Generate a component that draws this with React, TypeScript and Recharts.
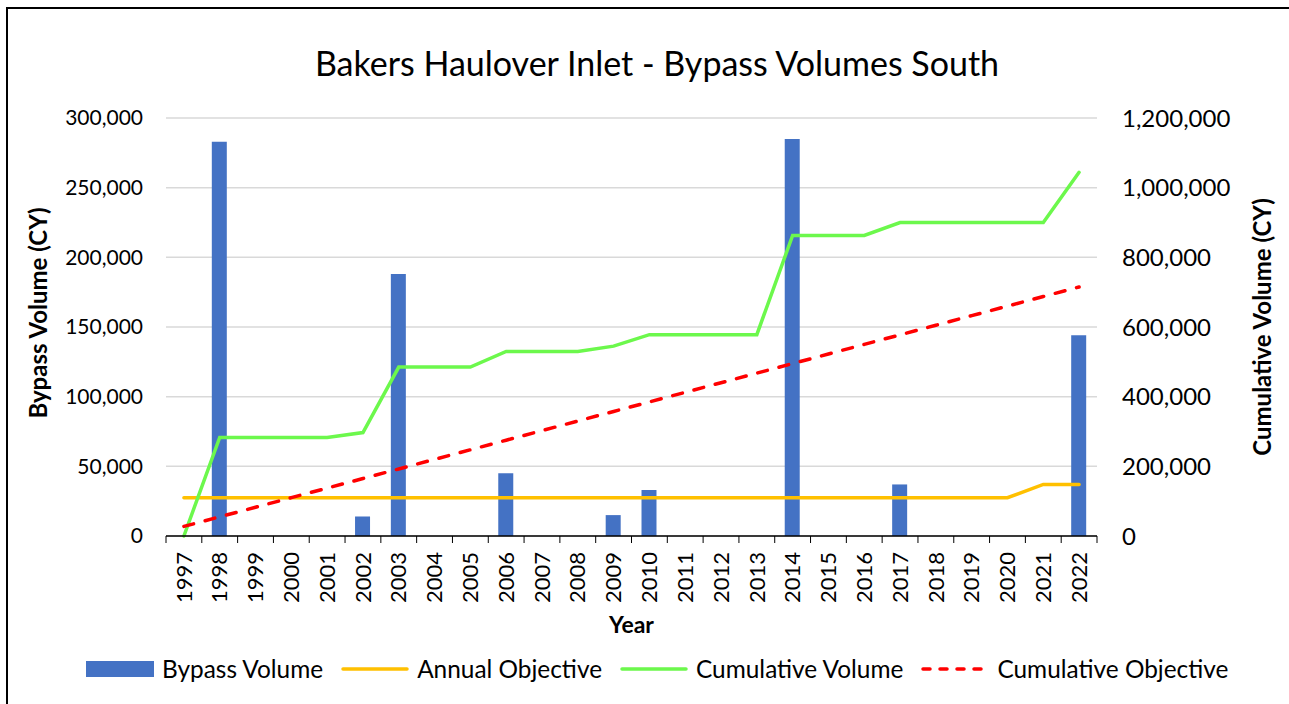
import {
  ComposedChart,
  Bar,
  Line,
  XAxis,
  YAxis,
  CartesianGrid,
  Legend,
} from "recharts";

const YEARS = [
  "1997", "1998", "1999", "2000", "2001", "2002", "2003", "2004", "2005",
  "2006", "2007", "2008", "2009", "2010", "2011", "2012", "2013", "2014",
  "2015", "2016", "2017", "2018", "2019", "2020", "2021", "2022",
];

const BYPASS_VOLUME = [
  null, 283000, null, null, null, 14000, 188000, null, null, 45000, null, null,
  15000, 33000, null, null, null, 285000, null, null, 37000, null, null, null,
  null, 144000,
];

const ANNUAL_OBJECTIVE = [
  27500, 27500, 27500, 27500, 27500, 27500, 27500, 27500, 27500, 27500, 27500,
  27500, 27500, 27500, 27500, 27500, 27500, 27500, 27500, 27500, 27500, 27500,
  27500, 27500, 37000, 37000,
];

const CUMULATIVE_VOLUME = [
  0, 283000, 283000, 283000, 283000, 297000, 485000, 485000, 485000, 530000,
  530000, 530000, 545000, 578000, 578000, 578000, 578000, 863000, 863000,
  863000, 900000, 900000, 900000, 900000, 900000, 1044000,
];

const CUMULATIVE_OBJECTIVE = [
  27500, 55000, 82500, 110000, 137500, 165000, 192500, 220000, 247500, 275000,
  302500, 330000, 357500, 385000, 412500, 440000, 467500, 495000, 522500,
  550000, 577500, 605000, 632500, 660000, 687500, 715000,
];

const LEFT_TICKS = [0, 50000, 100000, 150000, 200000, 250000, 300000];
const RIGHT_TICKS = [0, 200000, 400000, 600000, 800000, 1000000, 1200000];
const LEGEND_ORDER = ["bypass", "annual", "cumVol", "cumObj"];

const FONT = "Lato, 'Open Sans', sans-serif";
const W = 1289;
const H = 704;
const PLOT_LEFT = 166;
const PLOT_RIGHT = 1097;
const BAND = (PLOT_RIGHT - PLOT_LEFT) / YEARS.length;

const data = YEARS.map((year, i) => ({
  year,
  bypass: BYPASS_VOLUME[i],
  annual: ANNUAL_OBJECTIVE[i],
  cumVol: CUMULATIVE_VOLUME[i],
  cumObj: CUMULATIVE_OBJECTIVE[i],
}));

const fmt = (v: number) => v.toLocaleString("en-US");

function YearTick(props: any) {
  const { x, y, payload, index } = props;
  return (
    <g>
      <line x1={x - BAND / 2} x2={x - BAND / 2} y1={y} y2={y + 7} stroke="#000" />
      {index === YEARS.length - 1 && (
        <line x1={x + BAND / 2} x2={x + BAND / 2} y1={y} y2={y + 7} stroke="#000" />
      )}
      <text
        x={0}
        y={0}
        dy="0.35em"
        textAnchor="end"
        transform={`translate(${x},${y + 16}) rotate(-90)`}
        fontSize={22}
        fontFamily={FONT}
        fill="#000"
      >
        {payload.value}
      </text>
    </g>
  );
}

function axisTitle(text: string, dx: number, dy: number) {
  return (props: any) => {
    const vb = props.viewBox;
    const cx = vb.x + dx;
    const cy = vb.y + vb.height / 2 + dy;
    return (
      <text
        x={cx}
        y={cy}
        transform={`rotate(-90 ${cx} ${cy})`}
        textAnchor="middle"
        dominantBaseline="central"
        fontSize={24}
        fontWeight="bold"
        fontFamily={FONT}
        fill="#000"
      >
        {text}
      </text>
    );
  };
}

function LegendContent({ payload }: any) {
  const items = [...(payload || [])].sort(
    (a: any, b: any) => LEGEND_ORDER.indexOf(a.dataKey) - LEGEND_ORDER.indexOf(b.dataKey)
  );
  return (
    <div style={{ display: "flex", alignItems: "center", fontFamily: FONT, fontSize: 24.4, whiteSpace: "nowrap" }}>
      {items.map((entry: any, i: number) => (
        <div key={entry.value} style={{ display: "flex", alignItems: "center", marginLeft: i === 0 ? 0 : 18 }}>
          <svg width={68} height={16} style={{ marginRight: 8 }}>
            {entry.dataKey === "bypass" ? (
              <rect x={0} y={0} width={68} height={16} fill={entry.color} />
            ) : (
              <line
                x1={2}
                x2={66}
                y1={8}
                y2={8}
                stroke={entry.color}
                strokeWidth={3.5}
                strokeLinecap="round"
                strokeDasharray={entry.dataKey === "cumObj" ? "7 10" : undefined}
              />
            )}
          </svg>
          <span style={{ color: "#000" }}>{entry.value}</span>
        </div>
      ))}
    </div>
  );
}

export default function App() {
  return (
    <div style={{ position: "absolute", left: 0, top: 0, width: W, height: H, overflow: "hidden", background: "#fff" }}>
      <div
        style={{
          position: "absolute",
          left: 6,
          top: 7,
          width: W + 20,
          height: H + 20,
          border: "2px solid #000",
          boxSizing: "border-box",
        }}
      />
      <div
        style={{
          position: "absolute",
          left: 0,
          top: 43,
          width: 1314,
          textAlign: "center",
          fontFamily: FONT,
          fontSize: 34,
          lineHeight: "40px",
          color: "#000",
        }}
      >
        Bakers Haulover Inlet - Bypass Volumes South
      </div>
      <div style={{ position: "absolute", left: 0, top: 0 }}>
        <ComposedChart
          width={W}
          height={H}
          data={data}
          margin={{ top: 118, right: 0, bottom: 68, left: 0 }}
        >
          <CartesianGrid vertical={false} stroke="#D9D9D9" strokeWidth={1.5} yAxisId="left" />
          <XAxis
            dataKey="year"
            interval={0}
            height={100}
            tickLine={false}
            tickSize={0}
            tickMargin={0}
            tick={<YearTick />}
            axisLine={{ stroke: "#000", strokeWidth: 1.5 }}
            label={{
              value: "Year",
              position: "insideBottom",
              offset: 3,
              fontSize: 23,
              fontWeight: "bold",
              fontFamily: FONT,
              fill: "#000",
            }}
          />
          <YAxis
            yAxisId="left"
            width={166}
            domain={[0, 300000]}
            ticks={LEFT_TICKS}
            tickFormatter={fmt}
            axisLine={false}
            tickLine={false}
            tickSize={0}
            tickMargin={23}
            tick={{ fontSize: 21, fontFamily: FONT, fill: "#000" }}
            label={{ content: axisTitle("Bypass Volume (CY)", 37, -14) }}
          />
          <YAxis
            yAxisId="right"
            orientation="right"
            width={192}
            domain={[0, 1200000]}
            ticks={RIGHT_TICKS}
            tickFormatter={fmt}
            axisLine={false}
            tickLine={false}
            tickSize={0}
            tickMargin={25}
            tick={{ fontSize: 24, fontFamily: FONT, fill: "#000" }}
            label={{ content: axisTitle("Cumulative Volume (CY)", 164, 0) }}
          />
          <Bar
            yAxisId="left"
            dataKey="bypass"
            name="Bypass Volume"
            fill="#4472C4"
            barSize={15}
            isAnimationActive={false}
          />
          <Line
            yAxisId="left"
            dataKey="annual"
            name="Annual Objective"
            stroke="#FFC000"
            strokeWidth={3.5}
            strokeLinecap="round"
            dot={false}
            activeDot={false}
            type="linear"
            isAnimationActive={false}
          />
          <Line
            yAxisId="right"
            dataKey="cumVol"
            name="Cumulative Volume"
            stroke="#6CF84C"
            strokeWidth={3.5}
            strokeLinecap="round"
            dot={false}
            activeDot={false}
            type="linear"
            isAnimationActive={false}
          />
          <Line
            yAxisId="right"
            dataKey="cumObj"
            name="Cumulative Objective"
            stroke="#FF0000"
            strokeWidth={3.5}
            strokeDasharray="10 12"
            strokeLinecap="round"
            dot={false}
            activeDot={false}
            type="linear"
            isAnimationActive={false}
          />
          <Legend
            layout="vertical"
            align="center"
            verticalAlign="middle"
            content={<LegendContent />}
            wrapperStyle={{ position: "absolute", left: 86, top: 654, width: "auto", height: "auto" }}
          />
        </ComposedChart>
      </div>
    </div>
  );
}
